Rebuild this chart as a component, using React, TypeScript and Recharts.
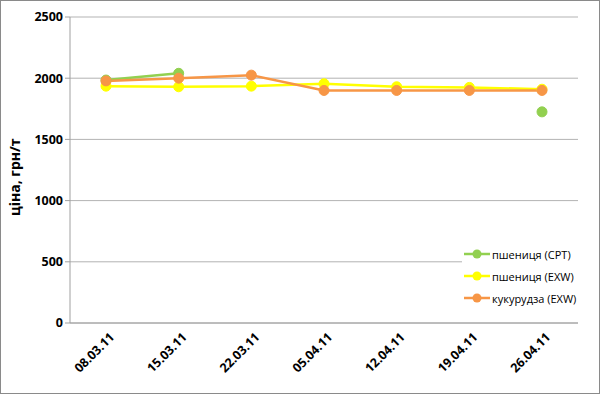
import { CartesianGrid, Line, LineChart, XAxis, YAxis } from "recharts";

const DATES = ["08.03.11", "15.03.11", "22.03.11", "05.04.11", "12.04.11", "19.04.11", "26.04.11"];
const WHEAT_CPT = [1985, 2040, null, null, null, null, 1725];
const WHEAT_EXW = [1935, 1930, 1935, 1955, 1930, 1925, 1910];
const CORN_EXW = [1978, 2000, 2025, 1900, 1900, 1900, 1900];
const Y_TICKS = [0, 500, 1000, 1500, 2000, 2500];

const SERIES = [
  { key: "cpt", name: "пшениця (CPT)", color: "#92D050" },
  { key: "exw", name: "пшениця (EXW)", color: "#FFFF00" },
  { key: "corn", name: "кукурудза (EXW)", color: "#F79646" },
];

const data = DATES.map((d, i) => ({
  date: d,
  cpt: WHEAT_CPT[i],
  exw: WHEAT_EXW[i],
  corn: CORN_EXW[i],
}));

const FONT = "'Open Sans', 'Liberation Sans', sans-serif";

function DateTick({ x, y, payload }: any) {
  const ax = x + 9;
  const ay = y + 7;
  return (
    <text
      x={ax}
      y={ay}
      transform={`rotate(-45, ${ax}, ${ay})`}
      textAnchor="end"
      fontSize={12.5}
      fontWeight="bold"
      fill="#000"
      fontFamily={FONT}
    >
      {payload.value}
    </text>
  );
}

function LegendBox() {
  return (
    <div
      style={{
        position: "absolute",
        left: 461,
        top: 240,
        width: 128,
        background: "#fff",
        padding: "2px 0",
        fontFamily: FONT,
        fontSize: 11,
      }}
    >
      {SERIES.map((s) => (
        <div key={s.key} style={{ display: "flex", alignItems: "center", height: 22 }}>
          <svg width={28} height={12} style={{ marginLeft: 2 }}>
            <line x1={0} x2={26} y1={6} y2={6} stroke={s.color} strokeWidth={2.5} />
            <circle cx={13} cy={6} r={4.5} fill={s.color} />
          </svg>
          <span style={{ color: "#000" }}>{s.name}</span>
        </div>
      ))}
    </div>
  );
}

export default function App() {
  return (
    <div
      style={{
        position: "absolute",
        left: 0,
        top: 0,
        width: 598,
        height: 392,
        border: "1px solid #8a8a8a",
        background: "#fff",
      }}
    >
      <LineChart
        width={598}
        height={392}
        data={data}
        margin={{ top: 16, right: 21, left: 0, bottom: 0 }}
      >
        <CartesianGrid vertical={false} stroke="#b3b3b3" />
        <XAxis
          dataKey="date"
          height={70}
          stroke="#a0a0a0"
          tickLine={false}
          tick={<DateTick />}
          interval={0}
          padding={{ left: 36, right: 36 }}
        />
        <YAxis
          width={69}
          domain={[0, 2500]}
          ticks={Y_TICKS}
          stroke="#a0a0a0"
          tickSize={5}
          tick={{ fontSize: 12.5, fontWeight: "bold", fill: "#000", fontFamily: FONT }}
          label={{
            value: "ціна, грн/т",
            angle: -90,
            position: "insideLeft",
            dx: 9,
            dy: 46,
            style: { fontSize: 14, fontWeight: "bold", fill: "#000", fontFamily: FONT },
          }}
        />
        {SERIES.map((s) => (
          <Line
            key={s.key}
            dataKey={s.key}
            name={s.name}
            stroke={s.color}
            strokeWidth={2.5}
            dot={{ r: 5, fill: s.color, stroke: s.color, strokeWidth: 1 }}
            activeDot={false}
            isAnimationActive={false}
            connectNulls={false}
          />
        ))}
      </LineChart>
      <LegendBox />
    </div>
  );
}
